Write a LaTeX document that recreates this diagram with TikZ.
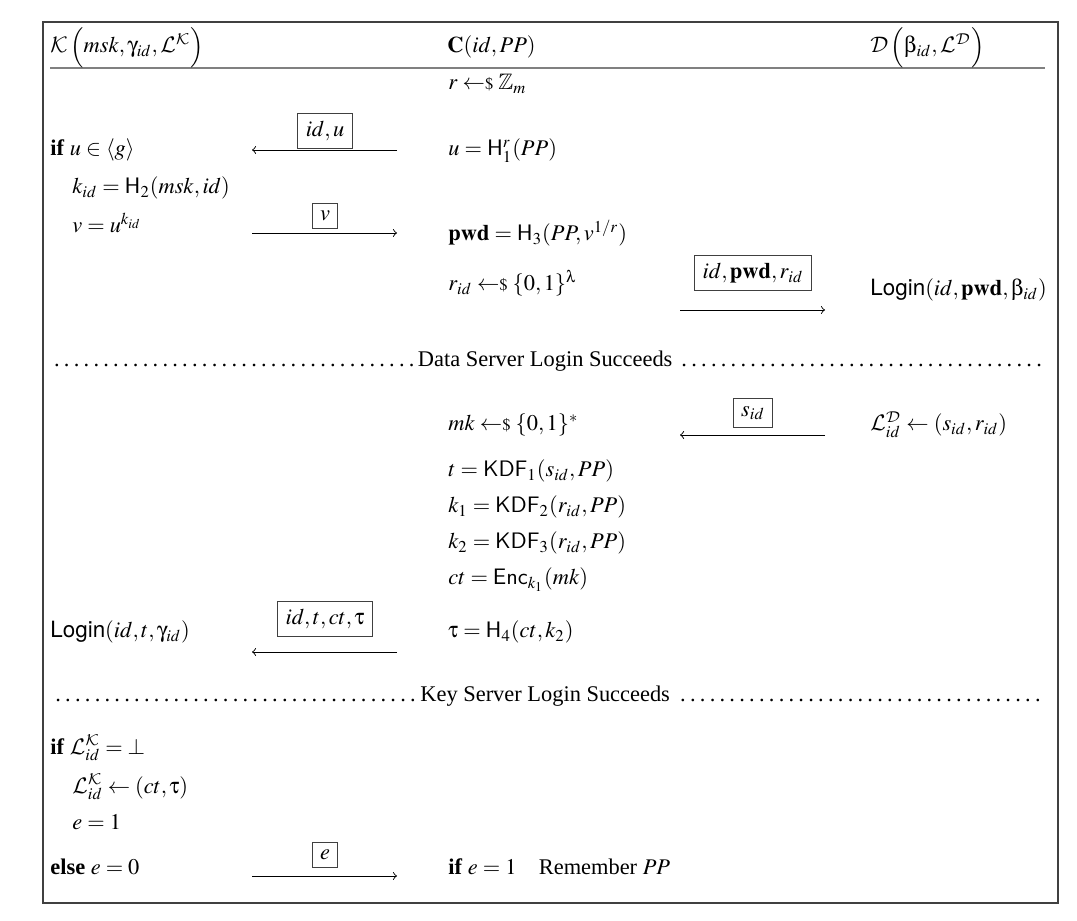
\documentclass[tikz,border=0pt]{standalone}
\usepackage{amssymb}
\usepackage{amsmath}
\usepackage{mathptmx}
\usepackage[Symbol]{upgreek}
\usepackage{fontspec}
\setmainfont{Liberation Serif}
\setsansfont{TeX Gyre Heros}
\usepackage{tikz}
\DeclareMathAlphabet{\mathcal}{OMS}{cmsy}{m}{n}
\newcommand{\rsample}{\mathrel{\leftarrow\!\!{\scriptstyle\$}}}

\begin{document}
\begin{tikzpicture}[x=0.4464pt,y=-0.4464pt,
    msg/.style={draw=black!75,line width=0.5pt,inner sep=3.5pt},
    txt/.style={anchor=base west,inner sep=0pt},
    dots/.style={anchor=base,inner sep=0pt}]
      \useasboundingbox (0,0) rectangle (1077,921);
      \draw[black!75,line width=0.8pt] (43,22) rectangle (1058,903);
      \draw[gray,line width=1.2pt] (50,68) -- (1045,68);
      \node[txt] (hk) at (50,53) {$\mathcal{K}\,\Bigl(msk,\upgamma_{id},\mathcal{L}^{\mathcal{K}}\Bigr)$};
      \node[txt] (hc) at (447,53) {$\mathbf{C}(id,PP)$};
      \node[txt] (hd) at (870,53) {$\mathcal{D}\,\Bigl(\upbeta_{id},\mathcal{L}^{\mathcal{D}}\Bigr)$};
      \node[txt] (rr) at (448,90) {$r\rsample\mathbb{Z}_m$};
      \node[txt] (if1) at (50,156) {\textbf{if} $u\in\langle g\rangle$};
      \node[txt] (uu) at (448,156) {$u=\mathsf{H}_1^r(PP)$};
      \node[txt] (kid) at (72,194) {$k_{id}=\mathsf{H}_2(msk,id)$};
      \node[txt] (vv) at (72,233) {$v=u^{k_{id}}$};
      \node[txt] (pwd) at (448,241) {$\mathbf{pwd}=\mathsf{H}_3(PP,v^{1/r})$};
      \node[txt] (rid) at (448,291) {$r_{id}\rsample\{0,1\}^\uplambda$};
      \node[txt] (lgd) at (870,296) {\textsf{Login}$(id,\mathbf{pwd},\upbeta_{id})$};
      \node[dots] (ds) at (548,367) {\makebox[444pt]{\dotfill Data Server Login Succeeds \dotfill}};
      \node[txt] (mk) at (448,431) {$mk\rsample\{0,1\}^*$};
      \node[txt] (ld) at (870,431) {$\mathcal{L}^{\mathcal{D}}_{id}\leftarrow(s_{id},r_{id})$};
      \node[txt] (tt) at (448,477) {$t=\mathsf{KDF}_1(s_{id},PP)$};
      \node[txt] (kk1) at (448,513) {$k_1=\mathsf{KDF}_2(r_{id},PP)$};
      \node[txt] (kk2) at (448,549) {$k_2=\mathsf{KDF}_3(r_{id},PP)$};
      \node[txt] (ct) at (448,585) {$ct=\mathsf{Enc}_{k_1}(mk)$};
      \node[txt] (lgk) at (50,638) {\textsf{Login}$(id,t,\upgamma_{id})$};
      \node[txt] (tau) at (448,638) {$\uptau=\mathsf{H}_4(ct,k_2)$};
      \node[dots] (ks) at (548,701) {\makebox[444pt]{\dotfill Key Server Login Succeeds \dotfill}};
      \node[txt] (if2) at (50,754) {\textbf{if} $\mathcal{L}^{\mathcal{K}}_{id}=\bot$};
      \node[txt] (lk) at (72,793) {$\mathcal{L}^{\mathcal{K}}_{id}\leftarrow(ct,\uptau)$};
      \node[txt] (e1) at (72,829) {$e=1$};
      \node[txt] (e0) at (50,874) {\textbf{else} $e=0$};
      \node[txt] (rem) at (448,874) {\textbf{if} $e=1$\quad Remember $PP$};
      \node[msg] (mu) at (325,131) {$id,u$};
      \node[msg] (mv) at (325,216) {$v$};
      \node[msg] (mp) at (753,273) {$id,\mathbf{pwd},r_{id}$};
      \node[msg] (ms) at (753,413) {$s_{id}$};
      \node[msg] (mt) at (325,619) {$id,t,ct,\uptau$};
      \node[msg] (me) at (325,855) {$e$};
      \coordinate (a1l) at (252,150);
      \coordinate (a1r) at (397,150);
      \coordinate (a2l) at (252,233);
      \coordinate (a2r) at (397,233);
      \coordinate (a3l) at (680,310);
      \coordinate (a3r) at (825,310);
      \coordinate (a4l) at (680,435);
      \coordinate (a4r) at (825,435);
      \coordinate (a5l) at (252,652);
      \coordinate (a5r) at (397,652);
      \coordinate (a6l) at (252,876);
      \coordinate (a6r) at (397,876);
      \draw[->] (a1r) -- (a1l);
      \draw[->] (a2l) -- (a2r);
      \draw[->] (a3l) -- (a3r);
      \draw[->] (a4r) -- (a4l);
      \draw[->] (a5r) -- (a5l);
      \draw[->] (a6l) -- (a6r);
\end{tikzpicture}
\end{document}
